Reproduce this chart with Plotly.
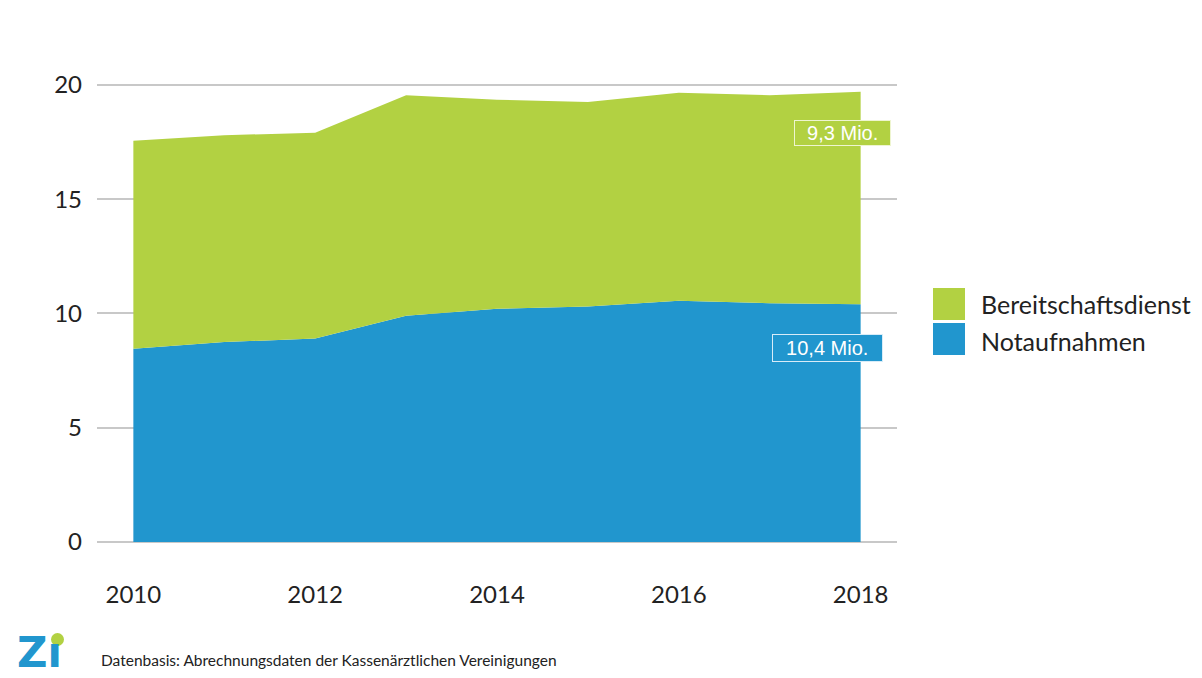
import plotly.graph_objects as go

years = [2010, 2011, 2012, 2013, 2014, 2015, 2016, 2017, 2018]
notaufnahmen = [8.45, 8.75, 8.9, 9.9, 10.2, 10.3, 10.55, 10.45, 10.4]
bereitschaftsdienst = [9.1, 9.05, 9.0, 9.65, 9.15, 8.95, 9.1, 9.1, 9.3]
series_names = ["Bereitschaftsdienst", "Notaufnahmen"]
label_texts = ["9,3 Mio.", "10,4 Mio."]
x_ticks = [2010, 2012, 2014, 2016, 2018]
y_ticks = [0, 5, 10, 15, 20]
footer = "Datenbasis: Abrechnungsdaten der Kassenärztlichen Vereinigungen"

GREEN = "#b2d142"
BLUE = "#2196ce"
FONT = "Lato, 'Open Sans', sans-serif"

W, H = 1202, 678
ML, MR, MT, MB = 97, 305, 62, 136
PW, PH = W - ML - MR, H - MT - MB


def px(x):
    return (x - ML) / PW


def py(y):
    return (H - MB - y) / PH


fig = go.Figure()
fig.add_trace(go.Scatter(x=years, y=notaufnahmen, name=series_names[1], mode="none",
                         stackgroup="one", fillcolor=BLUE, showlegend=False))
fig.add_trace(go.Scatter(x=years, y=bereitschaftsdienst, name=series_names[0], mode="none",
                         stackgroup="one", fillcolor=GREEN, showlegend=False))

total_last = notaufnahmen[-1] + bereitschaftsdienst[-1]
lab_font = dict(family="Liberation Sans, Arial", size=20, color="white")
NB = "\u00a0\u00a0"
annotations = [
    dict(x=years[-1], y=total_last - 1.8, xref="x", yref="y", text=NB + label_texts[0] + NB,
         showarrow=False, xanchor="right", xshift=30, font=lab_font,
         bgcolor=GREEN, bordercolor="#eef5d0", borderwidth=1, borderpad=1),
    dict(x=years[-1], y=notaufnahmen[-1] - 1.9, xref="x", yref="y", text=NB + label_texts[1] + NB,
         showarrow=False, xanchor="right", xshift=22, font=lab_font,
         bgcolor=BLUE, bordercolor="#d8ecf8", borderwidth=1, borderpad=2),
    # legend texts
    dict(x=px(979), y=py(304), xref="paper", yref="paper", text=series_names[0], showarrow=False,
         xanchor="left", yanchor="middle", font=dict(family=FONT, size=25, color="#222")),
    dict(x=px(979), y=py(341), xref="paper", yref="paper", text=series_names[1], showarrow=False,
         xanchor="left", yanchor="middle", font=dict(family=FONT, size=25, color="#222")),
    # footer
    dict(x=px(99), y=py(660), xref="paper", yref="paper", text=footer, showarrow=False,
         xanchor="left", yanchor="middle", font=dict(family=FONT, size=15.5, color="#222")),
    # logo
    dict(x=px(15), y=py(652), xref="paper", yref="paper", text="<b>Zı</b>", showarrow=False,
         xanchor="left", yanchor="middle", font=dict(family="DejaVu Sans", size=42, color=BLUE)),
]

shapes = [
    dict(type="rect", xref="paper", yref="paper", x0=px(933), x1=px(965), y0=py(288), y1=py(320),
         fillcolor=GREEN, line=dict(width=0)),
    dict(type="rect", xref="paper", yref="paper", x0=px(933), x1=px(965), y0=py(323), y1=py(355),
         fillcolor=BLUE, line=dict(width=0)),
    dict(type="circle", xref="paper", yref="paper", x0=px(51), x1=px(64), y0=py(633), y1=py(646),
         fillcolor=GREEN, line=dict(width=0)),
]

fig.update_layout(
    width=W, height=H,
    margin=dict(l=ML, r=MR, t=MT, b=MB, autoexpand=False),
    paper_bgcolor="white", plot_bgcolor="white",
    showlegend=False,
    annotations=annotations,
    shapes=shapes,
    xaxis=dict(range=[2009.6, 2018.4], tickvals=x_ticks, ticktext=[str(t) for t in x_ticks],
               showgrid=False, zeroline=False, showline=False, ticks="",
               tickfont=dict(family=FONT, size=24, color="#222"), ticklabelstandoff=36),
    yaxis=dict(range=[0, 21], tickvals=y_ticks, showgrid=True, gridcolor="#c8c8c8", gridwidth=1.5,
               zeroline=True, zerolinecolor="#c8c8c8", zerolinewidth=1.5, showline=False, ticks="",
               tickfont=dict(family=FONT, size=24, color="#222"), ticklabelstandoff=14, layer="below traces"),
)

fig.write_html("out.html")
